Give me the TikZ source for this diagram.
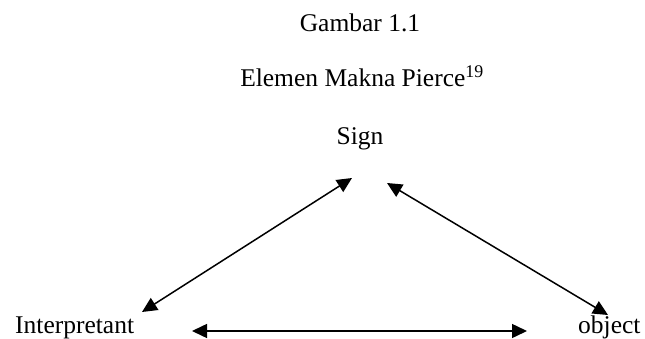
\documentclass[tikz,border=0pt]{standalone}
\usepackage{fontspec}
\setmainfont{Liberation Serif}
\usetikzlibrary{arrows.meta,calc,positioning}

\begin{document}
\begin{tikzpicture}[
    x=1pt, y=-1pt,
    font=\fontsize{25.5}{30}\selectfont,
    lbl/.style ={inner sep=0pt, anchor=base},
    darr/.style={{Triangle[length=15pt,width=14pt]}-{Triangle[length=15pt,width=14pt]},
                 line width=1.5pt, draw=black},
  ]
  \useasboundingbox (0,0) rectangle (645,339);
  % titles
  \node[lbl] (gbr)   at (360,32)  {Gambar 1.1};
  \node[lbl] (judul) at (362,87)  {Elemen Makna Pierce\textsuperscript{19}};
  % corners of the triangle
  \node[lbl] (sign)   at (360,145) {Sign};
  \node[lbl, anchor=base west] (interp) at (15,333)  {Interpretant};
  \node[lbl, anchor=base west] (obj)    at (578,333) {object};
  % arrow ends
  \coordinate (sl) at (352,178);
  \coordinate (sr) at (387,183);
  \coordinate (it) at (142,312);
  \coordinate (ir) at (192,331);
  \coordinate (ot) at (608,315);
  \coordinate (ol) at (527,331);
  % arrows
  \draw[darr] (sl) -- (it);
  \draw[darr] (sr) -- (ot);
  \draw[darr] (ir) -- (ol);
\end{tikzpicture}
\end{document}
